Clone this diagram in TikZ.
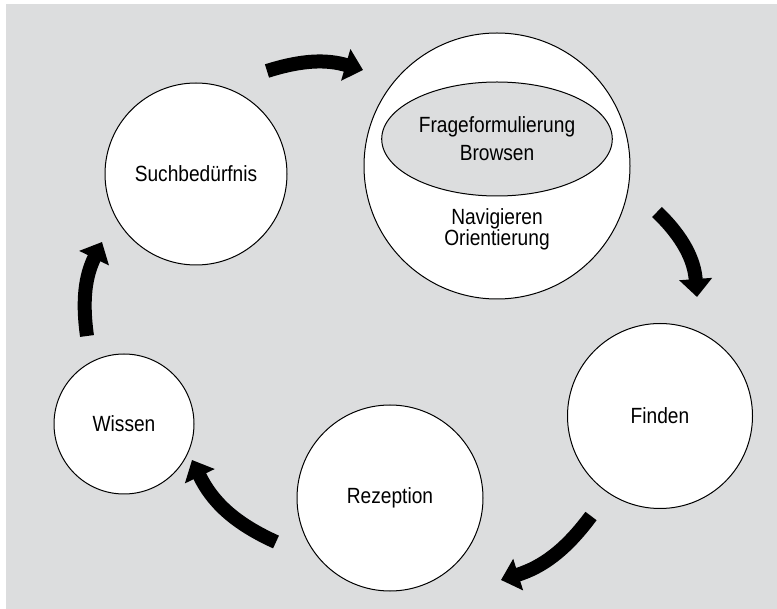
\documentclass[tikz,border=0pt]{standalone}
\usepackage{fontspec}
\setmainfont{Liberation Sans}[FakeStretch=0.87]
\usetikzlibrary{arrows.meta,shapes.geometric}
\definecolor{grund}{RGB}{220,221,222}
\begin{document}
\begin{tikzpicture}[x=1pt,y=-1pt,
  kreis/.style={circle,draw,line width=1,fill=white,inner sep=0pt,align=center,font=\fontsize{22}{26}\selectfont},
  pfeil/.style={line width=14,-{Triangle[length=18pt,width=32pt]}}]
\useasboundingbox (0,0) rectangle (777,609);
\fill[grund] (6,4) rectangle (777,609);
% Kreise
\node[kreis,minimum size=182] (such) at (196,174) {Suchbedürfnis};
\node[kreis,minimum size=266] (navi) at (497,166) {};
\node[ellipse,draw,line width=1,fill=grund,minimum width=192,minimum height=114,align=center,
  font=\fontsize{22}{28}\selectfont] (frage) at (497,139) {Frageformulierung\\Browsen};
\node[align=center,font=\fontsize{22}{21}\selectfont] (orient) at (497,229) {Navigieren\\Orientierung};
\node[kreis,minimum size=185] (finden) at (660,416) {Finden};
\node[kreis,minimum size=186] (rezeption) at (390,498) {Rezeption};
\node[kreis,minimum size=140] (wissen) at (124,424) {Wissen};
% Pfeile
\coordinate (p1a) at (267,71);  \coordinate (p1b) at (363,70);
\coordinate (p2a) at (657,212); \coordinate (p2b) at (697,297);
\coordinate (p3a) at (591,516); \coordinate (p3b) at (501,580);
\coordinate (p4a) at (276,542); \coordinate (p4b) at (192,460);
\coordinate (p5a) at (87,336);  \coordinate (p5b) at (102,242);
\draw[pfeil] (p1a) to[bend left=17] (p1b);
\draw[pfeil] (p2a) to[bend left=21] (p2b);
\draw[pfeil] (p3a) to[bend left=18] (p3b);
\draw[pfeil] (p4a) to[bend left=20] (p4b);
\draw[pfeil] (p5a) to[bend left=17] (p5b);
\end{tikzpicture}
\end{document}
